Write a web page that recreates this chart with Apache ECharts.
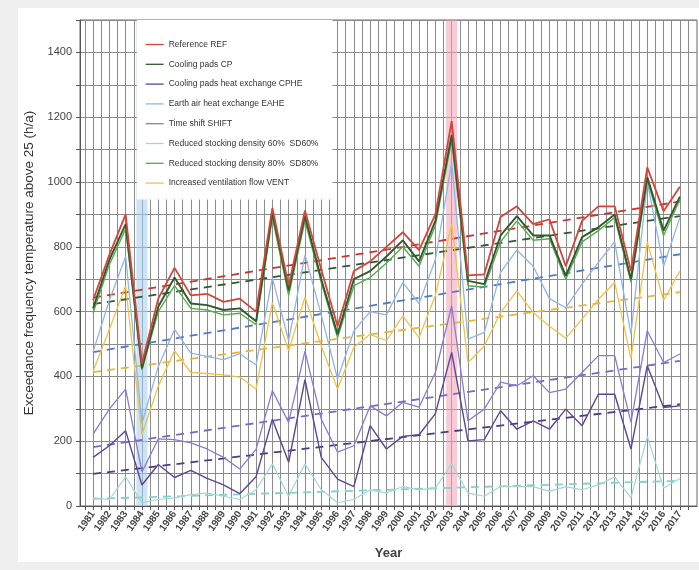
<!DOCTYPE html>
<html>
<head>
<meta charset="utf-8">
<script src="https://cdn.jsdelivr.net/npm/echarts@6/dist/echarts.min.js"></script>
<style>
  html, body { margin: 0; padding: 0; background: #efefef; }
  #panel { position: absolute; left: 18px; top: 8px; width: 681px; height: 554px; background: #ffffff; }
  #chart { position: absolute; left: 0; top: 0; width: 699px; height: 570px; }
</style>
</head>
<body>
<div id="panel"></div>
<div id="chart"></div>
<script>
// Years on the x axis
const years = [1981, 1982, 1983, 1984, 1985, 1986, 1987, 1988, 1989, 1990,
  1991, 1992, 1993, 1994, 1995, 1996, 1997, 1998, 1999, 2000,
  2001, 2002, 2003, 2004, 2005, 2006, 2007, 2008, 2009, 2010,
  2011, 2012, 2013, 2014, 2015, 2016, 2017];

// Exceedance hours above 25 °C per scenario (h/a)
const ref = [635, 775, 900, 440, 640, 735, 650, 655, 630, 640,
  600, 920, 680, 912, 730, 555, 725, 755, 800, 845,
  790, 900, 1188, 712, 715, 892, 925, 870, 885, 740,
  880, 925, 925, 725, 1045, 910, 985];
const cp = [610, 760, 870, 425, 615, 705, 625, 620, 605, 610,
  570, 905, 665, 895, 700, 530, 700, 725, 770, 820,
  755, 880, 1145, 695, 685, 835, 895, 835, 835, 710,
  830, 860, 900, 700, 1015, 850, 955];
const cphe = [150, 186, 232, 65, 128, 88, 110, 85, 65, 38,
  90, 268, 135, 390, 150, 83, 60, 248, 176, 215,
  220, 285, 474, 201, 205, 294, 237, 263, 237, 299,
  248, 345, 345, 176, 433, 304, 309];
const eahe = [475, 635, 770, 255, 430, 545, 472, 462, 452, 470,
  435, 705, 510, 775, 590, 392, 540, 600, 590, 690,
  625, 760, 1060, 515, 536, 721, 790, 740, 640, 612,
  685, 752, 815, 530, 1000, 740, 890];
const shift = [222, 299, 361, 105, 207, 205, 195, 176, 150, 114,
  175, 356, 258, 478, 268, 166, 186, 309, 278, 320,
  305, 412, 618, 263, 299, 382, 371, 402, 350, 361,
  412, 464, 464, 258, 541, 443, 469];
const sd60 = [25, 20, 90, 10, 20, 25, 35, 40, 30, 20,
  50, 130, 30, 130, 50, 10, 20, 50, 40, 60,
  50, 55, 130, 40, 30, 60, 60, 60, 45, 60,
  50, 65, 90, 25, 215, 55, 85];
const sd80 = [595, 745, 855, 420, 600, 680, 610, 605, 590, 595,
  560, 890, 650, 880, 690, 520, 680, 705, 750, 800,
  740, 865, 1130, 680, 675, 815, 880, 820, 825, 700,
  815, 850, 890, 690, 1005, 835, 945];
const vent = [415, 545, 680, 220, 370, 479, 412, 409, 405, 398,
  361, 628, 479, 645, 494, 361, 490, 530, 510, 587,
  520, 650, 870, 443, 494, 597, 664, 597, 555, 518,
  577, 638, 690, 455, 815, 635, 725];

// Linear trends: values at the first and last year
const trendYears = [1981, 2017];
const refTrend = [643, 940];
const cpTrend = [623, 895];
const eaheTrend = [475, 777];
const ventTrend = [413, 660];
const shiftTrend = [182, 448];
const cpheTrend = [99, 314];
const sd60Trend = [22, 78];

// Highlighted years (cool 1984, hot 2003)
const coolYear = 1984;
const hotYear = 2003;

// Y tick labels
const yTickLabels = [0, 200, 400, 600, 800, 1000, 1200, 1400];

const names = {
  ref: 'Reference REF',
  cp: 'Cooling pads CP',
  cphe: 'Cooling pads heat exchange CPHE',
  eahe: 'Earth air heat exchange EAHE',
  shift: 'Time shift SHIFT',
  sd60: 'Reduced stocking density 60%  SD60%',
  sd80: 'Reduced stocking density 80%  SD80%',
  vent: 'Increased ventilation flow VENT'
};

const values = { ref, cp, cphe, eahe, shift, sd60, sd80, vent };

const colors = {
  ref: '#d2453a',
  cp: '#35572f',
  cphe: '#5d4596',
  eahe: '#8fb6e6',
  eaheTrend: '#4f7cc8',
  shift: '#8c7ad2',
  sd60: '#9fd9d6',
  sd80: '#52ad4c',
  vent: '#efc24a'
};

const pairs = arr => years.map((y, i) => [y, arr[i]]);
const trendPairs = arr => trendYears.map((y, i) => [y, arr[i]]);

// Tick positions every half year for the vertical grid
const gridTicks = [];
years.forEach(y => { gridTicks.push(y - 0.5); gridTicks.push(y); });
gridTicks.push(years[years.length - 1] + 0.5);

function solid(key, width, z) {
  return {
    name: names[key], type: 'line', data: pairs(values[key]),
    symbol: 'none', z: z,
    lineStyle: { color: colors[key], width: width },
    itemStyle: { color: colors[key] }
  };
}
function dashed(data, color) {
  return {
    type: 'line', data: trendPairs(data), symbol: 'none', z: 3,
    lineStyle: { color: color, width: 1.8, type: [8, 6] },
    silent: true
  };
}

const bandHalf = 0.34;
const series = [
  {
    type: 'line', data: [], silent: true,
    markArea: {
      silent: true,
      data: [
        [{ xAxis: coolYear - bandHalf, itemStyle: { color: 'rgba(160,205,238,0.55)' } }, { xAxis: coolYear + bandHalf }],
        [{ xAxis: hotYear - bandHalf, itemStyle: { color: 'rgba(242,160,180,0.55)' } }, { xAxis: hotYear + bandHalf }]
      ]
    }
  },
  solid('sd60', 1.2, 4),
  solid('cphe', 1.4, 4),
  solid('shift', 1.3, 4),
  solid('vent', 1.3, 4),
  solid('eahe', 1.3, 4),
  solid('sd80', 1.4, 5),
  solid('cp', 1.9, 6),
  solid('ref', 1.8, 7),
  dashed(sd60Trend, '#86cfcf'),
  dashed(cpheTrend, '#4e3a86'),
  dashed(shiftTrend, '#7d68c4'),
  dashed(ventTrend, '#e8b73a'),
  dashed(eaheTrend, colors.eaheTrend),
  dashed(cpTrend, '#2f5a35'),
  dashed(refTrend, '#c8362c')
];

const chart = echarts.init(document.getElementById('chart'), null, { renderer: 'canvas' });
chart.setOption({
  backgroundColor: 'transparent',
  animation: false,
  textStyle: { fontFamily: 'Liberation Sans, Arial, sans-serif' },
  grid: { left: 80, right: 2, top: 20, bottom: 64, show: true, borderColor: '#666', borderWidth: 1 },
  legend: {
    left: 137, top: 20, orient: 'vertical',
    backgroundColor: '#ffffff',
    padding: [20, 14, 12, 8],
    itemWidth: 18, itemHeight: 10, itemGap: 10.8,
    itemStyle: { opacity: 0 },
    lineStyle: { width: 1.3 },
    textStyle: { fontSize: 8.5, color: '#333' },
    data: [names.ref, names.cp, names.cphe, names.eahe, names.shift, names.sd60, names.sd80, names.vent],
    z: 10
  },
  xAxis: {
    type: 'value', min: 1980.2, max: 2018.05,
    name: 'Year', nameLocation: 'middle', nameGap: 41,
    nameTextStyle: { fontSize: 13, fontWeight: 'bold', color: '#444' },
    axisLine: { show: true, lineStyle: { color: '#555' } },
    axisTick: { show: true, customValues: gridTicks, length: 4, lineStyle: { color: '#555' } },
    axisLabel: {
      customValues: years, rotate: 55, fontSize: 10, fontWeight: 'bold', color: '#444', margin: 6,
      formatter: v => String(v)
    },
    splitLine: { show: true, lineStyle: { color: '#8c8c8c', width: 1 } }
  },
  yAxis: {
    type: 'value', min: 0, max: 1500, interval: 100,
    name: 'Exceedance frequency temperature above 25 (h/a)',
    nameLocation: 'middle', nameGap: 44,
    nameTextStyle: { fontSize: 13.5, color: '#333' },
    axisLine: { show: true, lineStyle: { color: '#555' } },
    axisTick: { show: true, length: 4, lineStyle: { color: '#555' } },
    axisLabel: {
      fontSize: 11, color: '#444', margin: 8,
      formatter: v => (yTickLabels.indexOf(v) >= 0 ? String(v) : '')
    },
    splitLine: { show: true, lineStyle: { color: '#8c8c8c', width: 1 } }
  },
  series: series
});
</script>
</body>
</html>
